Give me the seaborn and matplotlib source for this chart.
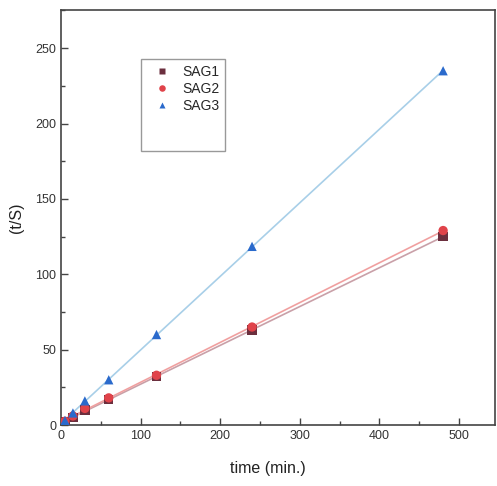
import numpy as np
import pandas as pd
import matplotlib
matplotlib.use("Agg")
import matplotlib.pyplot as plt
import seaborn as sns
from matplotlib.ticker import MultipleLocator
from matplotlib.patches import Rectangle

time = [5, 15, 30, 60, 120, 240, 480]
sag1 = [2, 5, 10, 17, 32, 63, 125]
sag2 = [2.5, 6, 11, 18, 33, 65, 129]
sag3 = [3, 8, 16, 30, 60, 118.5, 235]
series_names = ["SAG1", "SAG2", "SAG3"]

sns.set_style("white")
plt.rcParams['font.family'] = ['Liberation Sans', 'DejaVu Sans']

fig = plt.figure(figsize=(4.97, 4.86), dpi=100)
ax = fig.add_axes([0.1227, 0.1255, 0.873, 0.853])

colors = ["#6b2f3e", "#e0434a", "#2a6acc"]
line_colors = ["#c9a0a8", "#f0a0a0", "#a8cfe8"]
markers = ["s", "o", "^"]

df = pd.DataFrame({"time": time * 3,
                   "value": sag1 + sag2 + sag3,
                   "series": sum([[n] * len(time) for n in series_names], [])})

for name, c, lc, m in zip(series_names, colors, line_colors, markers):
    sub = df[df["series"] == name]
    fit = np.polyfit(sub["time"], sub["value"], 1)
    xs = np.array([0, max(time)])
    ax.plot(xs, np.polyval(fit, xs), color=lc, lw=1.2, zorder=1)

sns.scatterplot(data=df, x="time", y="value", hue="series", style="series",
                palette=dict(zip(series_names, colors)),
                markers=dict(zip(series_names, markers)),
                s=45, edgecolor="none", ax=ax, zorder=3)

ax.set_xlim(0, 545)
ax.set_ylim(0, 275)
ax.xaxis.set_major_locator(MultipleLocator(100))
ax.xaxis.set_minor_locator(MultipleLocator(50))
ax.yaxis.set_major_locator(MultipleLocator(50))
ax.yaxis.set_minor_locator(MultipleLocator(25))
ax.tick_params(which="both", direction="in", bottom=True, left=True,
               top=False, right=False, labelsize=9, colors="#444444")
ax.tick_params(which="major", length=5, width=1)
ax.tick_params(which="minor", length=3, width=1)
ax.tick_params(axis="both", labelcolor="#333333")
for s in ax.spines.values():
    s.set_color("#444444")
    s.set_linewidth(1.2)

ax.set_xlabel("time (min.)", fontsize=11.5, color="#222222")
ax.xaxis.set_label_coords(0.476, -0.088)
ax.set_ylabel("(t/S)", fontsize=11.5, color="#222222", labelpad=8)

ax.add_patch(Rectangle((0.184, 0.660), 0.194, 0.224, transform=ax.transAxes,
                       facecolor="white", edgecolor="#999999", lw=1, zorder=4))
leg = ax.legend(title=None, loc="upper left", bbox_to_anchor=(0.175, 0.895),
                frameon=False, fontsize=10, handletextpad=0.5, borderpad=0.3,
                labelspacing=0.2, markerscale=0.7)
leg.set_zorder(5)

fig.savefig("out.png", dpi=100)
